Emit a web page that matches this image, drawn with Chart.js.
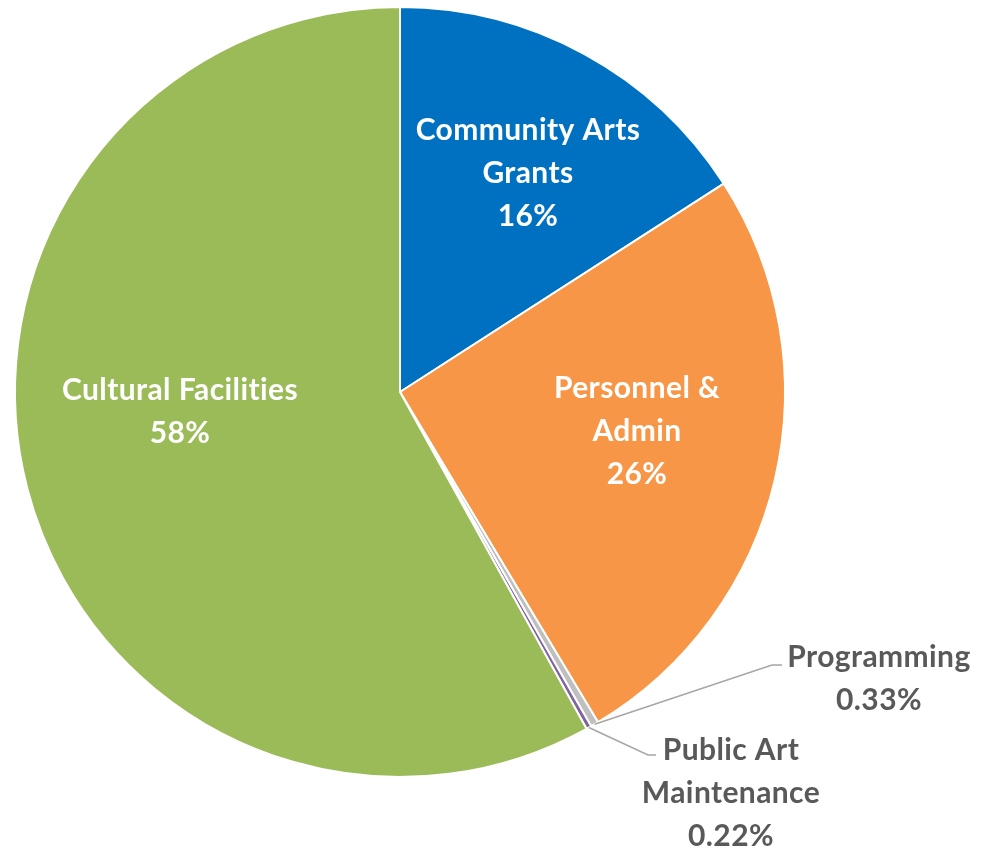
<!DOCTYPE html>
<html>
<head>
<meta charset="utf-8">
<script src="https://cdn.jsdelivr.net/npm/chart.js@4"></script>
<style>
  html, body { margin: 0; padding: 0; background: #fff; }
  #wrap { width: 1007px; height: 851px; position: relative; }
</style>
</head>
<body>
<div id="wrap"><canvas id="pieChart"></canvas></div>
<script>
// data
var categories = [
    ['Community Arts', 'Grants'],
    ['Personnel &', 'Admin'],
    ['Programming'],
    ['Public Art', 'Maintenance'],
    ['Cultural Facilities']
];
var shares = [15.9, 25.5, 0.33, 0.22, 58.05];
var shareLabels = ['16%', '26%', '0.33%', '0.22%', '58%'];
var colors = ['#0070C0', '#F79646', '#BFBFBF', '#8064A2', '#9BBB59'];

// where each label sits, and whether it is inside (white) or outside (grey, with leader line)
var labelSpots = [
    { x: 528, y: 130, inside: true },
    { x: 637, y: 388, inside: true },
    { x: 879, y: 657, inside: false, elbow: [772, 665], end: 782 },
    { x: 731, y: 750, inside: false, elbow: [648, 755], end: 656 },
    { x: 180, y: 390, inside: true }
];

var pieLabels = {
    id: 'pieLabels',
    afterDatasetsDraw: function(chart) {
        var ctx = chart.ctx;
        var arcs = chart.getDatasetMeta(0).data;
        ctx.save();
        ctx.font = 'bold 30px Lato, "Open Sans", sans-serif';
        ctx.letterSpacing = '0.4px'; // also stops the "ti" ligature
        ctx.textAlign = 'center';
        ctx.textBaseline = 'middle';
        arcs.forEach(function(arc, i) {
            var spot = labelSpots[i];
            var lines = categories[i].concat([shareLabels[i]]);
            if (!spot.inside) {
                var mid = (arc.startAngle + arc.endAngle) / 2;
                var sx = arc.x + Math.cos(mid) * arc.outerRadius;
                var sy = arc.y + Math.sin(mid) * arc.outerRadius;
                ctx.strokeStyle = '#A6A6A6';
                ctx.lineWidth = 1.5;
                ctx.beginPath();
                ctx.moveTo(sx, sy);
                ctx.lineTo(spot.elbow[0], spot.elbow[1]);
                ctx.lineTo(spot.end, spot.elbow[1]);
                ctx.stroke();
            }
            ctx.fillStyle = spot.inside ? '#FFFFFF' : '#595959';
            lines.forEach(function(t, k) {
                ctx.fillText(t, spot.x, spot.y + k * 43);
            });
        });
        ctx.restore();
    }
};

var pieChart = document.getElementById('pieChart').getContext('2d');

new Chart(pieChart, {
    type: 'pie',
    data: {
        labels: categories.map(function(c) { return c.join(' '); }),
        datasets: [{
            data: shares,
            backgroundColor: colors,
            borderColor: '#FFFFFF',
            borderWidth: 2
        }]
    },
    options: {
        responsive: true,
        maintainAspectRatio: false,
        animation: false,
        events: [],
        layout: {
            padding: {
                left: 14,
                right: 221,
                top: 6,
                bottom: 73
            }
        },
        plugins: {
            legend: { display: false },
            tooltip: { enabled: false }
        }
    },
    plugins: [pieLabels]
});
</script>
</body>
</html>
